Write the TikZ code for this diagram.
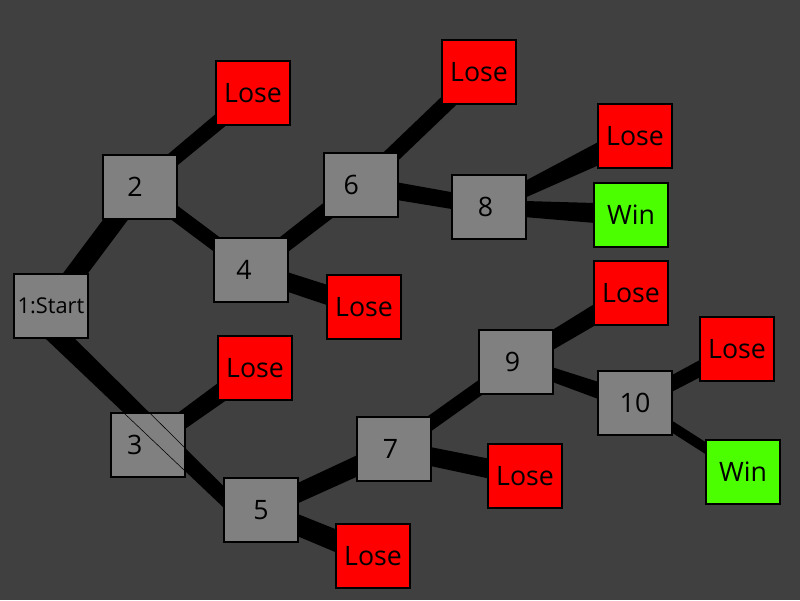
\documentclass[tikz,border=0pt]{standalone}
\usepackage{fontspec}
\setmainfont{Open Sans}
\usetikzlibrary{calc,backgrounds}

\definecolor{bgdark}{RGB}{64,64,64}
\definecolor{boxgray}{RGB}{128,128,128}
\definecolor{wingreen}{RGB}{76,255,0}

% tapered band from #1 to #2, half widths #3 and #4
\newcommand\band[4]{\fill ($(#1)!#3!90:(#2)$) -- ($(#2)!#4!-90:(#1)$) -- ($(#2)!#4!90:(#1)$) -- ($(#1)!#3!-90:(#2)$) -- cycle;}
% label moved left by half of #1
\newcommand\lft[2]{\hspace*{-#1}#2}

\begin{document}
\begin{tikzpicture}[x=0.025cm,y=-0.025cm,
  state/.style={draw=black,line width=1.4pt,fill=boxgray,minimum width=1.86cm,minimum height=1.59cm,inner sep=0pt,font=\fontsize{19}{22}\selectfont},
  lose/.style={state,fill=red},
  win/.style={state,fill=wingreen}]
  \useasboundingbox (0,0) rectangle (800,600);
  % nodes
  \node[state,font=\fontsize{15.5}{18}\selectfont] (start) at (51,306) {1:Start};
  \node[state] (n2) at (140,187) {\lft{7pt}{2}};
  \node[state] (n3) at (148,445) {\lft{19pt}{3}};
  \node[state] (n4) at (251,270) {\lft{10pt}{4}};
  \node[state] (n5) at (261,510) {5};
  \node[state] (n6) at (361,185) {\lft{14pt}{6}};
  \node[state] (n7) at (394,449) {\lft{5pt}{7}};
  \node[state] (n8) at (489,207) {\lft{5pt}{8}};
  \node[state] (n9) at (516,362) {\lft{5pt}{9}};
  \node[state] (n10) at (635,403) {10};
  \node[lose] (lose2) at (253,93) {Lose};
  \node[lose] (lose3) at (255,368) {Lose};
  \node[lose] (lose4) at (364,307) {Lose};
  \node[lose] (lose5) at (373,556) {Lose};
  \node[lose] (lose6) at (479,72) {Lose};
  \node[lose] (lose7) at (525,476) {Lose};
  \node[lose] (lose8) at (635,136) {Lose};
  \node[lose] (lose9) at (631,293) {Lose};
  \node[lose] (lose10) at (737,349) {Lose};
  \node[win] (win8) at (631,215) {Win};
  \node[win] (win10) at (743,472) {Win};
  \coordinate (s1) at ($(start)+(-15,9)$);
  \coordinate (s5) at ($(n5)+(-23,1)$);
  % bands
  \begin{scope}[on background layer]
    \fill[bgdark] (0,0) rectangle (800,600);
    \band{start}{n2}{7.1pt}{7.1pt}
    \band{s1}{s5}{7.5pt}{5.3pt}
    \band{n2}{lose2}{5pt}{5.7pt}
    \band{n2}{n4}{5.3pt}{5.3pt}
    \band{n3}{lose3}{5.7pt}{7.1pt}
    \band{n4}{n6}{5.7pt}{6.4pt}
    \band{n4}{lose4}{6.4pt}{7.1pt}
    \band{n6}{lose6}{5.7pt}{5.7pt}
    \band{n6}{n8}{6.4pt}{5.7pt}
    \band{n8}{lose8}{4.3pt}{8.5pt}
    \band{n8}{win8}{5pt}{7.8pt}
    \band{n5}{n7}{6.4pt}{7.1pt}
    \band{n5}{lose5}{7.1pt}{7.8pt}
    \band{n7}{lose7}{6.4pt}{7.1pt}
    \band{n7}{n9}{5pt}{5pt}
    \band{n9}{lose9}{5.7pt}{7.1pt}
    \band{n9}{n10}{4.3pt}{6.4pt}
    \band{n10}{lose10}{5pt}{5.7pt}
    \band{n10}{win10}{3.6pt}{3.6pt}
  \end{scope}
  % edges of the band under 3
  \begin{scope}
    \clip (n3.south west) rectangle (n3.north east);
    \draw[thin] ($(s1)!7.5pt!90:(s5)$) -- ($(s5)!5.3pt!-90:(s1)$);
    \draw[thin] ($(s1)!7.5pt!-90:(s5)$) -- ($(s5)!5.3pt!90:(s1)$);
  \end{scope}
\end{tikzpicture}
\end{document}
